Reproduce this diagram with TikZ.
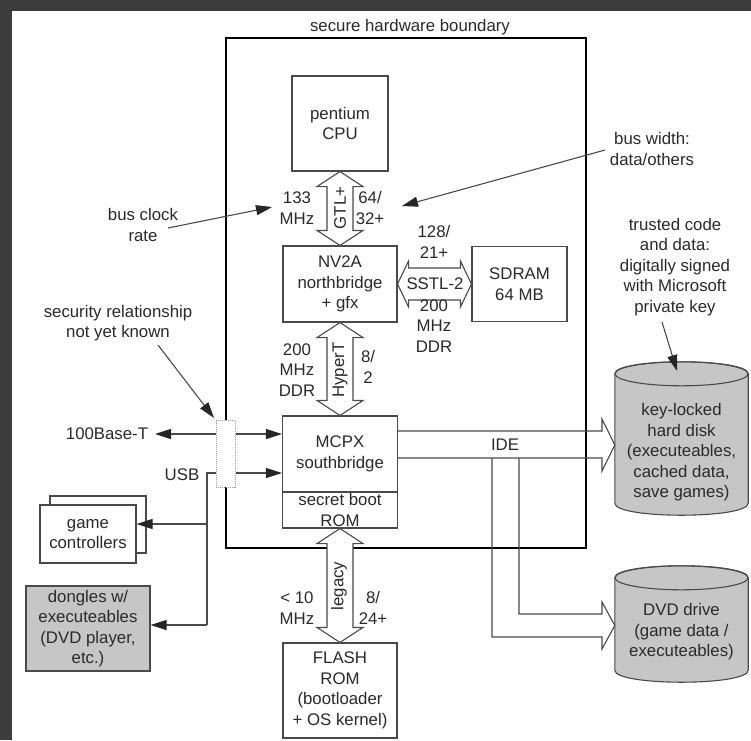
\documentclass[tikz,border=0pt]{standalone}
\usepackage{fontspec}
\setmainfont{Liberation Sans}
\usetikzlibrary{calc,arrows.meta}
\definecolor{ln}{HTML}{4A4A4A}
\definecolor{txt}{HTML}{2A2A2A}
\definecolor{framec}{HTML}{3C3C3C}
\definecolor{shade}{HTML}{C6C6C6}
\newcommand{\hollowV}[2]{\draw[conn,fill=white] (#1) -- ++(23,15) -- ++(-10,0) -- ($(#2)+(13,-15)$) -- ++(10,0) -- (#2) -- ++(-23,-15) -- ++(10,0) -- ($(#1)+(-13,15)$) -- ++(-10,0) -- cycle;}
\newcommand{\drawcyl}[1]{%
  \filldraw[conn,fill=shade] ($(#1.north west)+(0,12)$) -- ($(#1.south west)+(0,-12)$)
    .. controls ($(#1.south west)+(0,4)$) and ($(#1.south east)+(0,4)$) .. ($(#1.south east)+(0,-12)$)
    -- ($(#1.north east)+(0,12)$)
    .. controls ($(#1.north east)+(0,-4)$) and ($(#1.north west)+(0,-4)$) .. cycle;
  \draw[conn] ($(#1.north)+(0,12)$) ellipse [x radius=66.5pt, y radius=12pt];}
\begin{document}
\begin{tikzpicture}[x=1pt,y=-1pt,
  every node/.style={font=\fontsize{16.8pt}{20.5pt}\selectfont, text=txt, align=center, inner sep=0pt},
  conn/.style={draw=ln, line width=1.1pt},
  ptr/.style={draw=ln, line width=1.1pt, -{Triangle[length=16pt,width=10pt,color=black!85,fill=black!85]}},
  box/.style={draw=ln, line width=1.1pt, fill=white}]
\useasboundingbox (0,0) rectangle (751,740);
\fill[framec] (0,0) rectangle (751,740);
\fill[white] (12,11) rectangle (751,740);

% secure boundary
\node[draw=black, line width=1.8pt, minimum width=360, minimum height=510] (bound) at (406,293) {};
\node (bl) at (410,27) {secure hardware boundary};

% main boxes
\node[box, minimum width=96, minimum height=95] (cpu) at (340,123.5) {pentium\\CPU};
\node[box, minimum width=114, minimum height=76] (nb) at (340,284) {NV2A\\northbridge\\+ gfx};
\node[box, minimum width=95, minimum height=75] (sdram) at (519.5,284) {SDRAM\\64 MB};
\node[box, minimum width=115, minimum height=76] (mcpx) at (340,454) {MCPX\\southbridge};
\node[box, minimum width=115, minimum height=36] (rom) at (340,510) {secret boot\\ROM};
\node[box, minimum width=114, minimum height=95] (flash) at (340,690.5) {FLASH\\ROM\\(bootloader\\+ OS kernel)};

% security box
\node[draw=gray!80, densely dotted, line width=1pt, fill=white, minimum width=19, minimum height=67] (sec) at (225.5,453.5) {};

% left boxes
\node[box, minimum width=96, minimum height=57] (gcb) at (98,524.5) {};
\node[box, minimum width=96, minimum height=58] (gc) at (88,534) {game\\controllers};
\node[box, fill=shade, minimum width=124, minimum height=85] (dg) at (88,628.5) {dongles w/\\executeables\\(DVD player,\\etc.)};

% cylinders
\node[minimum width=133, minimum height=153] (hd) at (681.5,438.5) {};
\drawcyl{hd}
\node (hdt) at (681.5,452.5) {key-locked\\hard disk\\(executeables,\\cached data,\\save games)};
\node[minimum width=133, minimum height=116] (dvd) at (681.5,624) {};
\drawcyl{dvd}
\node (dvdt) at (681.5,632) {DVD drive\\(game data /\\executeables)};

% hollow buses
\hollowV{cpu.south}{nb.north}
\hollowV{nb.south}{mcpx.north}
\hollowV{rom.south}{flash.north}
\draw[conn,fill=white] (nb.east) -- ++(11,-23) -- ++(0,7) -- ($(sdram.west)+(-11,-16)$) -- ++(0,-7) -- (sdram.west) -- ++(-11,23) -- ++(0,-7) -- ($(nb.east)+(11,16)$) -- ++(0,7) -- cycle;

\node[rotate=90] (gtl) at (340,208) {GTL+};
\node[rotate=90] (ht) at (340,370) {HyperT};
\node[rotate=90] (leg) at (339,586) {legacy};
\node (sstl) at (435,284) {SSTL-2};

% bus labels
\node (l133) at (297,208) {133\\MHz};
\node (l64) at (370,208) {64/\\32+};
\node (l128) at (434,242) {128/\\21+};
\node (l200a) at (434,326) {200\\MHz\\DDR};
\node (l200b) at (297,370) {200\\MHz\\DDR};
\node (l82) at (368,367) {8/\\2};
\node (l10) at (297,608) {< 10\\MHz};
\node (l824) at (373,608) {8/\\24+};

% annotations
\node (bcr) at (143,225) {bus clock\\rate};
\node (bw) at (652,149) {bus width:\\data/others};
\node (srl) at (118,323) {security relationship\\not yet known};
\node (tc) at (675,267) {trusted code\\and data:\\digitally signed\\with Microsoft\\private key};
\coordinate (bcrs) at (168,228); \coordinate (bcre) at (272,207);
\coordinate (bws) at (605,150); \coordinate (bwe) at (402,206);
\coordinate (srls) at (158,345); \coordinate (srle) at (214,418);
\coordinate (tcs) at (662,322); \coordinate (tce) at (677,371);
\draw[ptr] (bcrs) -- (bcre);
\draw[ptr] (bws) -- (bwe);
\draw[ptr] (srls) -- (srle);
\draw[ptr] (tcs) -- (tce);

% network / USB
\coordinate (yeth) at (0,434);
\coordinate (yusb) at (0,473);
\coordinate (ethend) at (155,434);
\coordinate (usbx) at (207,0);
\coordinate (ygc) at (0,524);
\coordinate (ydg) at (0,625);
\node (eth) at (107,434) {100Base-T};
\node (usb) at (182,475) {USB};
\draw[ptr] (sec.west |- yeth) -- (ethend);
\draw[ptr] (sec.east |- yeth) -- (mcpx.west |- yeth);
\draw[ptr] (sec.east |- yusb) -- (mcpx.west |- yusb);
\draw[conn] (sec.west |- yusb) -- (usbx |- yusb) -- (usbx |- ydg);
\draw[ptr] (usbx |- ygc) -- (gc.east |- ygc);
\draw[ptr] (usbx |- ydg) -- (dg.east |- ydg);

% IDE
\coordinate (ide1) at (0,431);
\coordinate (ide2) at (0,458);
\coordinate (idetip) at (0,445);
\coordinate (dvdtip) at (0,625.5);
\node (ide) at (505,445) {IDE};
\draw[conn] (mcpx.east |- ide1) -- (602,431) -- (602,419) -- (hd.west |- idetip) -- (602,471) -- (602,458) -- (mcpx.east |- ide2);
\draw[conn] (492,458) -- (492,637) -- (602,637) -- (602,649) -- (dvd.west |- dvdtip) -- (602,602) -- (602,614) -- (519,614) -- (519,458);
\end{tikzpicture}
\end{document}
